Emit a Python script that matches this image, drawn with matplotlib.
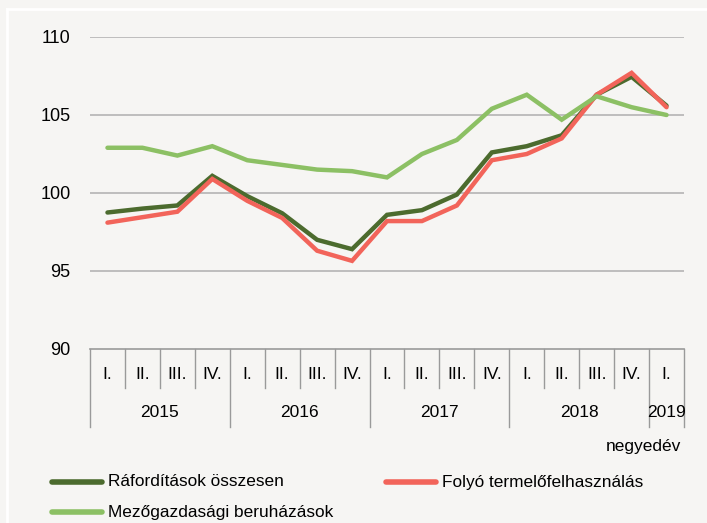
import matplotlib
matplotlib.use('Agg')
import matplotlib.pyplot as plt
from matplotlib.transforms import blended_transform_factory
from matplotlib.lines import Line2D

plt.rcParams['font.family'] = ['Liberation Sans', 'DejaVu Sans']

# negyedévek
negyedevek = ['I.', 'II.', 'III.', 'IV.'] * 4 + ['I.']
evek = ['2015', '2016', '2017', '2018', '2019']
ev_hossz = [4, 4, 4, 4, 1]

raforditasok = [98.75, 99.0, 99.2, 101.1, 99.8, 98.7, 97.0, 96.4,
                98.6, 98.9, 99.9, 102.6, 103.0, 103.7, 106.3, 107.45, 105.6]
folyo = [98.1, 98.45, 98.8, 100.9, 99.5, 98.4, 96.3, 95.65,
         98.2, 98.2, 99.2, 102.1, 102.5, 103.5, 106.3, 107.7, 105.5]
mezogazdasagi = [102.9, 102.9, 102.4, 103.0, 102.1, 101.8, 101.5, 101.4,
                 101.0, 102.5, 103.4, 105.4, 106.3, 104.7, 106.2, 105.5, 105.0]

bg = '#f6f5f3'
c_sotet = '#4c6b2e'
c_piros = '#f2645a'
c_vilagos = '#8cc064'

fig = plt.figure(figsize=(7.07, 5.23), dpi=100)
fig.patch.set_facecolor(bg)

# fehér keret
fig.add_artist(Line2D([7/707, 1], [1 - 8.5/523] * 2, color='white', lw=2, transform=fig.transFigure))
fig.add_artist(Line2D([7/707] * 2, [0, 1 - 8.5/523], color='white', lw=2, transform=fig.transFigure))

ax = fig.add_axes([90/707, 1 - 349/523, 594/707, 312/523])
ax.set_facecolor(bg)

x = list(range(len(negyedevek)))
ax.plot(x, raforditasok, color=c_sotet, lw=3.2, solid_capstyle='round', solid_joinstyle='miter')
ax.plot(x, folyo, color=c_piros, lw=3.2, solid_capstyle='round', solid_joinstyle='miter')
ax.plot(x, mezogazdasagi, color=c_vilagos, lw=3.2, solid_capstyle='round', solid_joinstyle='miter')

ax.set_xlim(-0.5, len(x) - 0.5)
ax.set_ylim(90, 110)
ax.set_yticks([90, 95, 100, 105, 110])
ax.tick_params(axis='y', length=0, labelsize=13, pad=14)
ax.set_xticks([])
for s in ['top', 'right', 'left']:
    ax.spines[s].set_visible(False)
ax.spines['bottom'].set_color('#9a9a9a')
ax.spines['bottom'].set_linewidth(1.2)
for v in [95, 100, 105, 110]:
    ax.axhline(v, color='#b4b4b4', lw=1.2, zorder=0)

# kategória tengely
tr = blended_transform_factory(ax.transData, ax.transAxes)
rov = 39 / 312
hosszu = 78 / 312
hatarok = [0]
for h in ev_hossz:
    hatarok.append(hatarok[-1] + h)
for i in range(len(x) + 1):
    y2 = -hosszu if i in hatarok else -rov
    ax.plot([i - 0.5, i - 0.5], [0, y2], color='#9a9a9a', lw=1, transform=tr, clip_on=False)
for i, q in enumerate(negyedevek):
    ax.text(i, -0.083, q, transform=tr, ha='center', va='center', fontsize=12.5)
for j, ev in enumerate(evek):
    kozep = (hatarok[j] + hatarok[j + 1]) / 2 - 0.5
    ax.text(kozep, -0.203, ev, transform=tr, ha='center', va='center', fontsize=12.5)

fig.text(681/707, 1 - 447/523, 'negyedév', ha='right', va='center', fontsize=12.5)

# jelmagyarázat
nevek = ['Ráfordítások összesen', 'Folyó termelőfelhasználás', 'Mezőgazdasági beruházások']
szinek = [c_sotet, c_piros, c_vilagos]
helyek = [(52, 482), (386, 482), (52, 512)]
for nev, szin, (px, py) in zip(nevek, szinek, helyek):
    fig.add_artist(Line2D([px/707, (px + 50)/707], [1 - py/523] * 2, color=szin, lw=4,
                          solid_capstyle='round', transform=fig.transFigure))
    fig.text((px + 56)/707, 1 - py/523, nev, ha='left', va='center', fontsize=12.4)

fig.savefig('out.png', dpi=100, facecolor=bg)
